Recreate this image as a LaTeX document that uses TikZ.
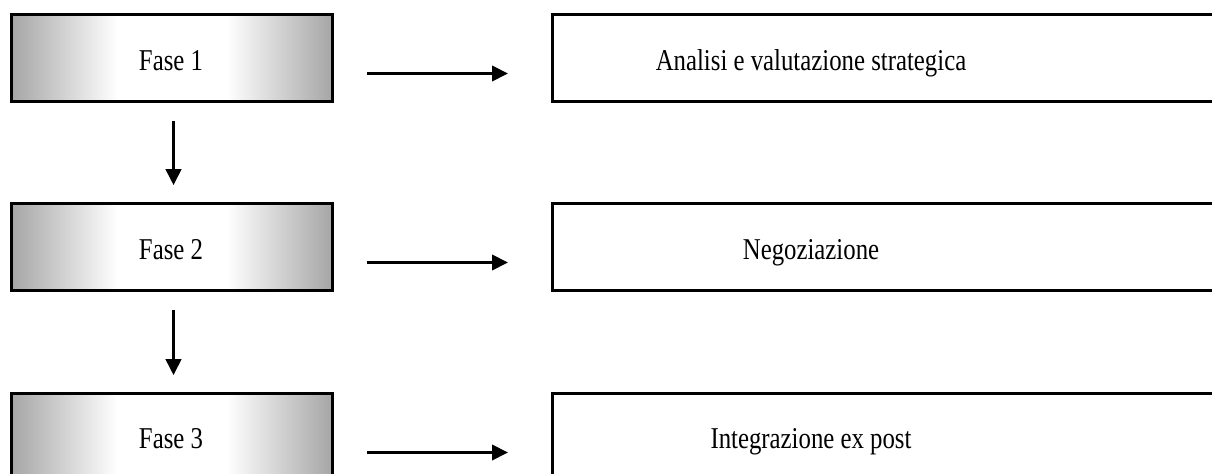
\documentclass[tikz,border=0pt]{standalone}
\usepackage{graphicx}
\usepackage{fontspec}
\setmainfont{Liberation Serif}
\usetikzlibrary{arrows.meta,calc}
\newcommand{\sqz}[1]{\scalebox{0.82}[1]{#1}}
\definecolor{edgegray}{gray}{0.65}
\pgfdeclarehorizontalshading{fasesh}{100bp}{color(0bp)=(edgegray); color(25bp)=(edgegray); color(41.5bp)=(white); color(58.5bp)=(white); color(75bp)=(edgegray); color(100bp)=(edgegray)}
\tikzset{
  fasebox/.style={draw=black, line width=2.1pt, shading=fasesh, minimum width=8.02cm, minimum height=2.17cm, anchor=north west, inner sep=0pt},
  rbox/.style={draw=black, line width=2.1pt, fill=white, minimum width=18cm, minimum height=2.17cm, anchor=north west, inner sep=0pt},
  lbl/.style={font=\fontsize{21.5}{25}\selectfont, inner sep=0pt, anchor=base},
  arr/.style={line width=2.4pt, -{Triangle[length=0.4cm,width=0.38cm]}}
}
\begin{document}
\begin{tikzpicture}[x=0.025cm,y=-0.025cm]
\useasboundingbox (0,0) rectangle (1212,474);
\clip (0,0) rectangle (1212,474);
% left boxes
\node[fasebox] (f1) at (10,13) {};
\node[fasebox] (f2) at (10,202) {};
\node[fasebox] (f3) at (10,392) {};
\node[lbl] (tf1) at (171,70) {\sqz{Fase 1}};
\node[lbl] (tf2) at (171,259) {\sqz{Fase 2}};
\node[lbl] (tf3) at (171,448) {\sqz{Fase 3}};
% right boxes
\node[rbox] (r1) at (551,13) {};
\node[rbox] (r2) at (551,202) {};
\node[rbox] (r3) at (551,392) {};
\node[lbl] (tr1) at (811,70) {\sqz{Analisi e valutazione strategica}};
\node[lbl] (tr2) at (811,259) {\sqz{Negoziazione}};
\node[lbl] (tr3) at (811,448) {\sqz{Integrazione ex post}};
% horizontal arrows
\draw[arr] ([yshift=-0.39cm]f1.east) ++(33,0) -- ($([yshift=-0.39cm]f1.east -| r1.west)+(-43,0)$);
\draw[arr] ([yshift=-0.39cm]f2.east) ++(33,0) -- ($([yshift=-0.39cm]f2.east -| r2.west)+(-43,0)$);
\draw[arr] ([yshift=-0.39cm]f3.east) ++(33,0) -- ($([yshift=-0.39cm]f3.east -| r3.west)+(-43,0)$);
% vertical arrows
\draw[arr, shorten <=0.45cm, shorten >=0.42cm] ([xshift=0.04cm]f1.south) -- ([xshift=0.04cm]f2.north);
\draw[arr, shorten <=0.45cm, shorten >=0.42cm] ([xshift=0.04cm]f2.south) -- ([xshift=0.04cm]f3.north);
\end{tikzpicture}
\end{document}
